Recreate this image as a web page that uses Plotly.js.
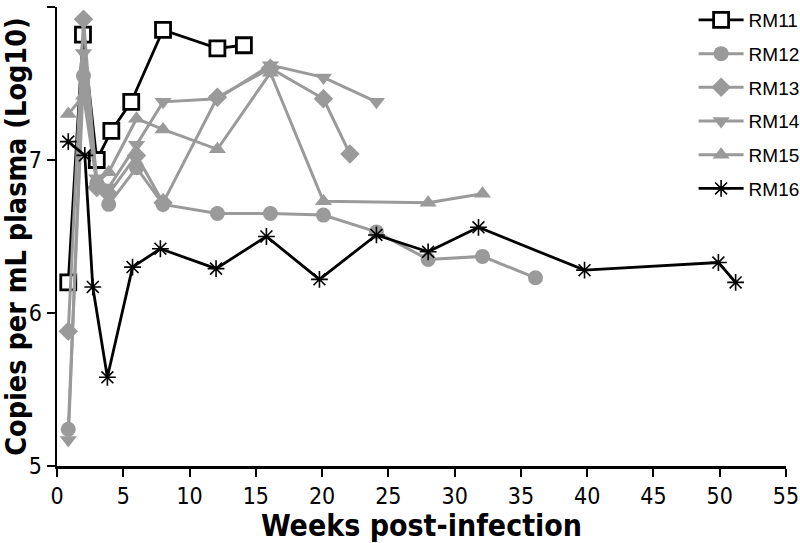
<!DOCTYPE html>
<html>
<head>
<meta charset="utf-8">
<script src="https://cdn.plot.ly/plotly-3.0.1.min.js"></script>
<style>html,body{margin:0;padding:0;background:#fff}#chart{width:800px;height:543px}</style>
</head>
<body>
<div id="chart"></div>
<script>
// Weeks post-infection and log10 copies per mL plasma
var rm11Weeks = [0.85, 1.96, 3.0, 4.1, 5.6, 8.0, 12.1, 14.1];
var rm11Vals  = [6.2, 7.82, 7.0, 7.19, 7.38, 7.85, 7.73, 7.75];

var rm12Weeks = [0.85, 2.0, 3.0, 3.9, 6.0, 8.0, 12.1, 16.1, 20.1, 24.1, 28.0, 32.1, 36.1];
var rm12Vals  = [5.24, 7.55, 6.85, 6.71, 6.95, 6.71, 6.65, 6.65, 6.64, 6.53, 6.35, 6.37, 6.23];

var rm13Weeks = [0.85, 2.0, 3.0, 3.9, 6.0, 8.0, 12.1, 16.1, 20.1, 22.1];
var rm13Vals  = [5.88, 7.92, 6.82, 6.78, 7.03, 6.72, 7.41, 7.6, 7.4, 7.04];

var rm14Weeks = [0.85, 2.0, 3.0, 3.9, 6.0, 8.0, 12.1, 16.1, 20.1, 24.1];
var rm14Vals  = [5.17, 7.7, 6.88, 6.82, 7.1, 7.38, 7.4, 7.62, 7.54, 7.38];

var rm15Weeks = [0.85, 2.0, 3.0, 3.9, 6.0, 8.0, 12.1, 16.1, 20.1, 28.0, 32.1];
var rm15Vals  = [7.3, 7.42, 6.85, 6.92, 7.27, 7.2, 7.07, 7.57, 6.73, 6.72, 6.78];

var rm16Weeks = [0.85, 2.1, 2.7, 3.8, 5.7, 7.8, 12.0, 15.8, 19.8, 24.1, 28.0, 31.8, 39.8, 49.9, 51.2];
var rm16Vals  = [7.12, 7.03, 6.17, 5.58, 6.30, 6.42, 6.29, 6.5, 6.22, 6.51, 6.40, 6.56, 6.28, 6.33, 6.2];

var xTicks = [0, 5, 10, 15, 20, 25, 30, 35, 40, 45, 50, 55];
var yTicks = [5, 6, 7, 8];

var GRAY = '#9a9a9a';
var BLACK = '#000000';

function grayTrace(name, xs, ys, symbol, size) {
  return {
    x: xs, y: ys, name: name, legendgroup: name, type: 'scatter', mode: 'lines+markers',
    line: {color: GRAY, width: 3},
    marker: {symbol: symbol, size: size, color: GRAY, line: {width: 0}},
    cliponaxis: false
  };
}

var traces = [
  {
    x: rm11Weeks, y: rm11Vals, name: 'RM11', legendgroup: 'RM11', type: 'scatter', mode: 'lines+markers',
    line: {color: BLACK, width: 2.8},
    marker: {symbol: 'square', size: 15, color: '#ffffff', line: {color: BLACK, width: 2.8}},
    cliponaxis: false
  },
  grayTrace('RM12', rm12Weeks, rm12Vals, 'circle', 15),
  grayTrace('RM13', rm13Weeks, rm13Vals, 'diamond', 15),
  grayTrace('RM14', rm14Weeks, rm14Vals, 'triangle-down', 15),
  grayTrace('RM15', rm15Weeks, rm15Vals, 'triangle-up', 15),
  {
    x: rm16Weeks, y: rm16Vals, name: 'RM16', legendgroup: 'RM16', type: 'scatter', mode: 'lines+markers',
    line: {color: BLACK, width: 2.8},
    marker: {symbol: 'asterisk-open', size: 14, color: BLACK, line: {color: BLACK, width: 1.6}},
    cliponaxis: false
  }
];

var cond = '"DejaVu Sans Condensed", "DejaVu Sans", sans-serif';

var layout = {
  width: 800, height: 543,
  margin: {l: 57, r: 14, t: 7, b: 77, autoexpand: false},
  paper_bgcolor: '#ffffff', plot_bgcolor: '#ffffff',
  showlegend: true,
  legend: {
    xref: 'container', yref: 'container',
    x: 0.867, y: 0.998, xanchor: 'left', yanchor: 'top',
    font: {family: 'Liberation Sans, Arial, sans-serif', size: 19, color: '#000'},
    bgcolor: 'rgba(255,255,255,0)', traceorder: 'grouped', tracegroupgap: 6, itemwidth: 45
  },
  xaxis: {
    automargin: false,
    range: [0, 55], tickvals: xTicks, ticktext: xTicks.map(String),
    showgrid: false, zeroline: false, showline: true, linecolor: '#000', linewidth: 2.5,
    ticks: 'outside', ticklen: 8, tickwidth: 2, tickcolor: '#000',
    tickfont: {family: cond, size: 23, color: '#000'},
    title: {text: '<b>Weeks post-infection</b>', font: {family: cond, size: 30, color: '#000'}, standoff: 3}
  },
  yaxis: {
    automargin: false,
    range: [5, 8], tickvals: yTicks, ticktext: yTicks.map(String),
    showgrid: false, zeroline: false, showline: true, linecolor: '#000', linewidth: 2.5,
    ticks: 'outside', ticklen: 8, tickwidth: 2, tickcolor: '#000',
    tickfont: {family: cond, size: 23, color: '#000'},
    title: {text: '<b>Copies per mL plasma (Log10)</b>', font: {family: cond, size: 28.5, color: '#000'}, standoff: 4}
  }
};

Plotly.newPlot('chart', traces, layout, {displayModeBar: false, staticPlot: true});
</script>
</body>
</html>
